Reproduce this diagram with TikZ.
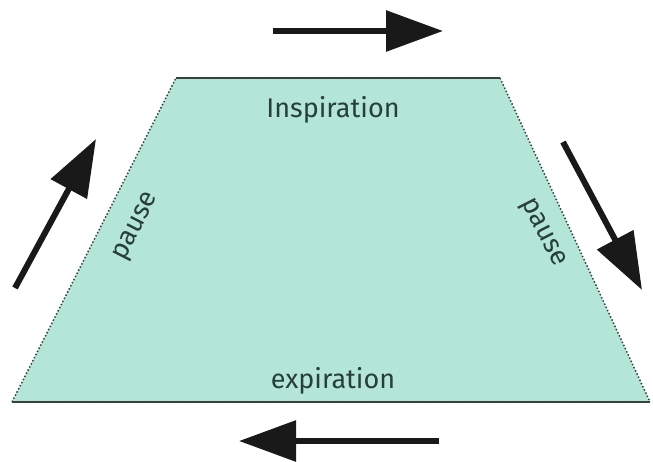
\documentclass[tikz,border=0pt]{standalone}
\usepackage{fontspec}
\setmainfont{Fira Sans}
\usetikzlibrary{arrows.meta, positioning, calc}
\definecolor{breathFill}{RGB}{179, 230, 214}
\definecolor{breathEdge}{RGB}{55, 65, 63}
\definecolor{breathText}{RGB}{40, 62, 58}

\begin{document}
\begin{tikzpicture}[
        x=1pt, y=-1pt,
        phaseLabel/.style={text=breathText, font=\fontsize{27}{30}\selectfont, inner sep=0pt},
        solidEdge/.style={draw=breathEdge, line width=1.3pt},
        pauseEdge/.style={draw=breathEdge, line width=1.5pt, dotted},
        flowArrow/.style={line width=6pt, black!90, -{Triangle[length=57pt, width=40pt]}}
    ]
        \useasboundingbox (0,0) rectangle (653,461);

        \coordinate (topLeft) at (176,78);
        \coordinate (topRight) at (500,78);
        \coordinate (bottomRight) at (650,402);
        \coordinate (bottomLeft) at (12,402);

        \fill[breathFill] (topLeft) -- (topRight) -- (bottomRight) -- (bottomLeft) -- cycle;
        \draw[solidEdge] (topLeft) -- (topRight);
        \draw[solidEdge] (bottomLeft) -- (bottomRight);
        \draw[pauseEdge] (topRight) -- (bottomRight);
        \draw[pauseEdge] (bottomLeft) -- (topLeft);

        \node[phaseLabel] (insp) at (333,110) {Inspiration};
        \node[phaseLabel] (expi) at (333,381) {expiration};
        \node[phaseLabel, rotate=63] (pauseLeft) at (137,227) {pause};
        \node[phaseLabel, rotate=-63] (pauseRight) at (542,233) {pause};

        \coordinate (topTail) at (273,31);
        \coordinate (topTip) at (443,31);
        \coordinate (rightTail) at (563,142);
        \coordinate (rightTip) at (642,290);
        \coordinate (bottomTail) at (439,441);
        \coordinate (bottomTip) at (239,441);
        \coordinate (leftTail) at (15,288);
        \coordinate (leftTip) at (96,139);

        \draw[flowArrow] (topTail) -- (topTip);
        \draw[flowArrow] (rightTail) -- (rightTip);
        \draw[flowArrow] (bottomTail) -- (bottomTip);
        \draw[flowArrow] (leftTail) -- (leftTip);
    \end{tikzpicture}
\end{document}
